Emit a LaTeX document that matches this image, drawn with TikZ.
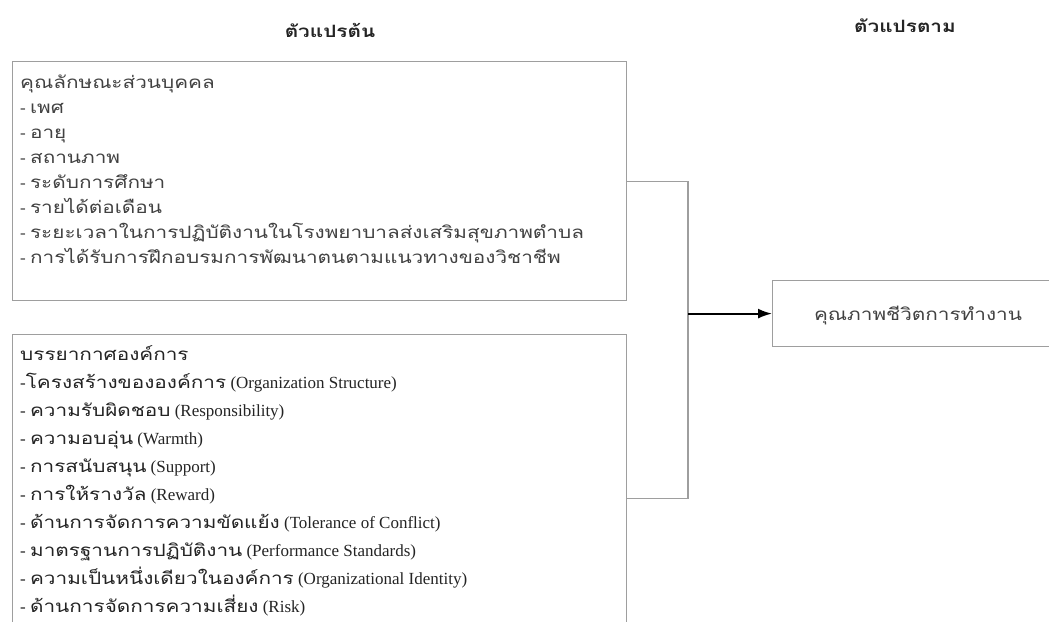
\documentclass[tikz,border=0pt]{standalone}
\usepackage{fontspec}
\setmainfont{Liberation Serif}
\newfontfamily\thaifont[Script=Thai,FakeStretch=1.22]{Loma}
\newcommand{\thx}[1]{{\thaifont #1}}
\usetikzlibrary{arrows.meta}
\definecolor{boxgray}{gray}{0.62}
\definecolor{txtA}{gray}{0.26}
\definecolor{txtB}{gray}{0.14}
\tikzset{
  varbox/.style={draw=boxgray, line width=1.2pt, minimum width=614, anchor=north west, inner sep=0},
  linetxt/.style={anchor=base west, inner sep=0, text=txtA, font=\fontsize{17}{20}\selectfont},
  linetxtB/.style={linetxt, text=txtB},
  headtxt/.style={inner sep=0, text=txtB, font=\fontsize{17}{20}\selectfont\bfseries},
  conn/.style={draw=boxgray, line width=1.2pt},
  arr/.style={draw=black, line width=1.8pt, -{Latex[length=14,width=10]}}
}
\begin{document}
\begin{tikzpicture}[x=1pt,y=-1pt]
\useasboundingbox (0,0) rectangle (1049,621);
\clip (0,0) rectangle (1049,621);
\fill[white] (0,0) rectangle (1049,621);
% titles
\node[headtxt] (h1) at (330,30) {\thx{ตัวแปรต้น}};
\node[headtxt] (h2) at (905,26) {\thx{ตัวแปรตาม}};
% boxes
\node[varbox, minimum height=239] (b1) at (12,61) {};
\node[varbox, minimum height=328] (b2) at (12,334) {};
\node[draw=boxgray, line width=1.2pt, minimum width=300, minimum height=66, anchor=north west, inner sep=0] (dv) at (772,280) {};
\node[linetxt, anchor=base] (dvt) at (918,320) {\thx{คุณภาพชีวิตการทำงาน}};
% box 1 text
\foreach \t [count=\i] in {
  {\thx{คุณลักษณะส่วนบุคคล}},
  {- \thx{เพศ}},
  {- \thx{อายุ}},
  {- \thx{สถานภาพ}},
  {- \thx{ระดับการศึกษา}},
  {- \thx{รายได้ต่อเดือน}},
  {- \thx{ระยะเวลาในการปฏิบัติงานในโรงพยาบาลส่งเสริมสุขภาพตำบล}},
  {- \thx{การได้รับการฝึกอบรมการพัฒนาตนตามแนวทางของวิชาชีพ}}}
  \node[linetxt] (p\i) at (20,{88+25*(\i-1)}) {\t};
% box 2 text
\foreach \t [count=\i] in {
  {\thx{บรรยากาศองค์การ}},
  {-\thx{โครงสร้างขององค์การ} (Organization Structure)},
  {- \thx{ความรับผิดชอบ} (Responsibility)},
  {- \thx{ความอบอุ่น} (Warmth)},
  {- \thx{การสนับสนุน} (Support)},
  {- \thx{การให้รางวัล} (Reward)},
  {- \thx{ด้านการจัดการความขัดแย้ง} (Tolerance of Conflict)},
  {- \thx{มาตรฐานการปฏิบัติงาน} (Performance Standards)},
  {- \thx{ความเป็นหนึ่งเดียวในองค์การ} (Organizational Identity)},
  {- \thx{ด้านการจัดการความเสี่ยง} (Risk)}}
  \node[linetxtB] (q\i) at (20,{360+28*(\i-1)}) {\t};
% connectors
\coordinate (j) at (688,315);
\draw[conn] (b1.east) -- (b1.east -| j) -- (b2.east -| j) -- (b2.east);
\draw[arr] (j |- dv.west) -- (dv.west);
\end{tikzpicture}
\end{document}
